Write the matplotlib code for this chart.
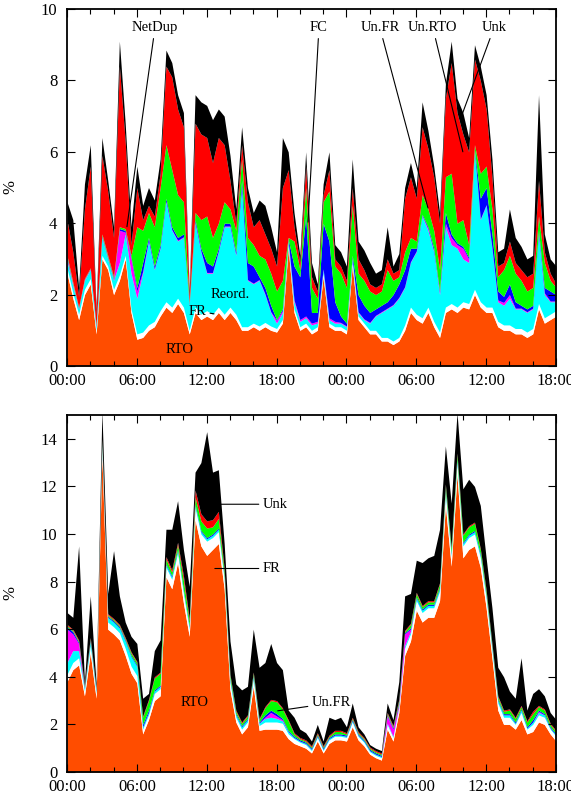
import numpy as np
import matplotlib
matplotlib.use("Agg")
import matplotlib.pyplot as plt
from matplotlib.ticker import MultipleLocator

# sample times in hours since 00:00 of day one (every 30 min, 42 h)
hours = np.arange(0, 42.5, 0.5)
xlabels = ['00:00', '06:00', '12:00', '18:00', '00:00', '06:00', '12:00', '18:00']

# ---- top panel: upper edge of each stacked class (%, cumulative) ----
top_rto = [2.6, 1.9, 1.3, 2.0, 2.3, 0.9, 3.0, 2.7, 2.0, 2.4,
           3.0, 1.5, 0.75, 0.8, 1.0, 1.1, 1.4, 1.65, 1.5, 1.75,
           1.5, 0.9, 1.5, 1.3, 1.4, 1.3, 1.5, 1.3, 1.5, 1.3,
           1.0, 1.0, 1.1, 1.0, 1.1, 1.0, 0.95, 1.2, 3.3, 1.5,
           1.0, 1.1, 0.9, 1.0, 2.5, 1.1, 1.0, 1.0, 0.9, 2.8,
           1.3, 1.1, 0.9, 0.9, 0.7, 0.7, 0.6, 0.7, 1.0, 1.5,
           1.3, 1.2, 1.5, 1.1, 0.8, 1.5, 1.6, 1.5, 1.65, 1.6,
           2.0, 1.65, 1.5, 1.5, 1.1, 1.0, 1.0, 0.9, 0.9, 0.8,
           0.9, 1.6, 1.2, 1.3, 1.4]
top_fr = [2.75, 2.05, 1.45, 2.15, 2.45, 1.0, 3.1, 2.8, 2.15, 2.55,
          3.1, 1.6, 0.9, 0.95, 1.15, 1.25, 1.55, 1.8, 1.65, 1.9,
          1.65, 1.0, 1.65, 1.45, 1.55, 1.45, 1.65, 1.45, 1.65, 1.45,
          1.1, 1.1, 1.2, 1.12, 1.22, 1.12, 1.05, 1.3, 3.4, 1.6,
          1.1, 1.2, 1.0, 1.1, 2.6, 1.2, 1.1, 1.1, 1.0, 2.9,
          1.4, 1.2, 1.0, 1.0, 0.8, 0.8, 0.7, 0.8, 1.15, 1.65,
          1.45, 1.35, 1.65, 1.25, 0.95, 1.65, 1.75, 1.65, 1.8, 1.75,
          2.15, 1.8, 1.65, 1.65, 1.25, 1.15, 1.15, 1.05, 1.05, 0.95,
          1.05, 1.75, 1.35, 1.45, 1.55]
top_reord = [2.95, 2.25, 1.6, 2.4, 2.7, 1.1, 3.6, 3.0, 2.4, 2.9,
             3.7, 2.6, 1.9, 2.6, 3.5, 2.7, 3.3, 4.6, 3.8, 3.5,
             3.6, 1.7, 4.0, 3.2, 2.6, 2.6, 3.2, 3.9, 3.9, 3.1,
             5.0, 2.4, 2.3, 2.4, 2.0, 1.5, 1.2, 1.5, 3.5, 1.8,
             1.25, 1.35, 1.15, 1.2, 2.7, 1.3, 1.2, 1.2, 1.1, 3.0,
             1.5, 1.3, 1.2, 1.4, 1.5, 1.6, 1.7, 1.9, 2.2, 2.9,
             3.2, 4.2, 3.8, 3.2, 2.0, 3.9, 3.4, 3.3, 3.0, 2.9,
             6.0, 4.1, 4.5, 3.3, 1.8, 1.7, 1.9, 1.6, 1.6, 1.5,
             1.6, 3.7, 2.0, 1.8, 1.8]
top_netdup = [3.0, 2.3, 1.62, 2.42, 2.72, 1.12, 3.62, 3.02, 2.42, 3.8,
              3.75, 3.0, 2.1, 2.65, 3.52, 2.72, 3.32, 4.62, 3.82, 3.52,
              3.62, 1.72, 4.02, 3.22, 2.62, 2.62, 3.22, 3.92, 3.92, 3.12,
              5.02, 2.42, 2.32, 2.42, 2.02, 1.52, 1.28, 1.55, 3.52, 1.85,
              1.3, 1.4, 1.2, 1.25, 2.72, 1.35, 1.25, 1.22, 1.12, 3.02,
              1.52, 1.32, 1.22, 1.42, 1.52, 1.62, 1.72, 1.92, 2.22, 2.92,
              3.22, 4.22, 3.85, 3.22, 2.05, 4.0, 3.6, 3.4, 3.3, 3.0,
              6.02, 4.12, 4.52, 3.32, 1.85, 1.78, 2.0, 1.62, 1.62, 1.52,
              1.62, 3.72, 2.05, 1.82, 1.82]
top_fc = [3.05, 2.3, 1.63, 2.43, 2.73, 1.13, 3.65, 3.05, 2.45, 3.85,
          3.8, 3.05, 2.2, 2.9, 3.6, 2.8, 3.4, 4.7, 3.9, 3.6,
          3.7, 1.75, 4.1, 3.3, 2.9, 2.8, 3.3, 4.0, 4.0, 3.2,
          5.2, 2.9, 2.8, 2.5, 2.2, 1.7, 1.3, 1.6, 3.55, 2.8,
          2.5, 4.2, 1.5, 1.5, 4.0, 3.5, 1.8, 1.4, 1.2, 3.1,
          2.0, 1.7, 1.5, 1.6, 1.7, 1.8, 2.0, 2.3, 2.7, 3.3,
          3.3, 4.25, 3.9, 3.3, 2.1, 4.3, 3.7, 3.45, 3.35, 3.05,
          6.05, 4.7, 5.0, 3.7, 2.1, 1.95, 2.3, 1.8, 1.7, 1.6,
          1.7, 3.8, 2.2, 2.1, 2.0]
top_unfr = [3.1, 2.35, 1.65, 2.45, 2.75, 1.15, 3.7, 3.1, 2.5, 3.9,
            3.85, 3.1, 3.9, 3.8, 4.3, 3.9, 5.0, 6.2, 5.5, 4.8,
            4.6, 1.8, 4.3, 4.1, 4.2, 3.6, 4.0, 4.6, 4.4, 3.8,
            5.8, 3.6, 3.4, 3.1, 3.0, 2.6, 2.1, 2.4, 3.6, 3.5,
            2.7, 5.0, 2.2, 1.9, 4.6, 4.9, 2.8, 2.6, 2.2, 4.5,
            2.6, 2.4, 2.1, 2.0, 2.1, 2.7, 2.4, 2.5, 3.2, 3.6,
            3.5, 4.8, 4.4, 3.8, 2.7, 5.3, 5.4, 4.0, 4.1, 3.4,
            6.2, 5.4, 5.6, 4.4, 2.5, 2.7, 3.1, 2.6, 2.4, 2.1,
            2.2, 4.2, 2.9, 2.4, 2.2]
top_unrto = [4.1, 3.2, 1.95, 4.4, 5.6, 1.45, 5.9, 4.9, 3.6, 8.4,
             6.3, 3.4, 5.0, 4.1, 4.5, 4.2, 5.4, 8.4, 8.1, 7.2,
             6.7, 1.95, 6.8, 6.5, 6.4, 5.7, 6.4, 6.2, 5.2, 4.0,
             6.2, 4.6, 3.9, 4.1, 3.7, 3.3, 2.8, 5.0, 5.5, 3.9,
             2.9, 5.6, 2.5, 2.1, 4.8, 5.5, 3.0, 2.8, 2.4, 5.0,
             3.0, 2.7, 2.3, 2.2, 2.3, 3.0, 2.6, 2.7, 4.7, 5.3,
             4.7, 6.7, 6.1, 5.3, 4.0, 7.5, 8.5, 7.1, 6.5, 6.0,
             8.6, 8.0, 7.2, 5.3, 2.8, 2.9, 3.5, 2.9, 2.7, 2.5,
             2.6, 5.2, 3.2, 2.6, 2.3]
top_unk = [4.6, 4.1, 2.2, 5.1, 6.2, 1.6, 6.4, 5.2, 3.9, 9.1,
           6.8, 3.9, 5.6, 4.5, 5.0, 4.65, 5.8, 8.85, 8.5, 7.6,
           7.1, 2.1, 7.6, 7.4, 7.3, 6.9, 7.2, 7.0, 5.9, 4.4,
           6.7, 5.0, 4.3, 4.65, 4.5, 3.9, 3.2, 6.4, 6.0, 4.3,
           3.1, 6.0, 2.9, 2.3, 5.1, 6.0, 3.4, 3.2, 2.8, 5.8,
           3.5, 3.25, 2.9, 2.6, 2.7, 3.9, 2.8, 3.15, 5.0, 5.7,
           5.0, 7.4, 6.6, 5.6, 4.3, 7.9, 9.1, 7.5, 7.1, 6.4,
           9.0, 8.4, 7.6, 5.8, 3.2, 3.3, 4.4, 3.6, 3.35, 3.0,
           3.1, 7.6, 3.7, 3.0, 2.8]

# ---- bottom panel: RTO and total, thin classes as thickness ----
bot_rto = [3.8, 4.3, 4.5, 3.2, 5.0, 3.1, 13.3, 6.0, 5.8, 5.55,
           4.9, 4.15, 3.75, 1.6, 2.2, 3.0, 3.2, 8.2, 7.7, 8.8,
           7.1, 5.7, 10.6, 9.5, 9.1, 9.35, 9.6, 7.7, 3.45, 2.1,
           1.6, 1.9, 3.6, 1.75, 1.8, 1.8, 1.8, 1.75, 1.4, 1.2,
           1.1, 1.0, 0.8, 1.3, 0.8, 1.2, 1.35, 1.35, 1.3, 1.9,
           1.35, 1.1, 0.75, 0.6, 0.5, 1.8, 1.3, 2.5, 4.9, 5.5,
           6.8, 6.3, 6.5, 6.5, 7.2, 11.2, 8.65, 12.5, 9.0, 9.35,
           9.5, 8.6, 6.9, 4.8, 2.6, 2.0, 2.0, 1.8, 2.2, 1.6,
           1.7, 2.1, 2.0, 1.6, 1.3]
bot_fr = [0.3, 0.3, 0.3, 0.2, 0.3, 0.2, 0.4, 0.3, 0.3, 0.3,
          0.3, 0.3, 0.3, 0.2, 0.2, 0.3, 0.3, 0.4, 0.4, 0.4,
          0.4, 0.3, 0.5, 0.5, 0.6, 0.5, 0.5, 0.4, 0.3, 0.2,
          0.2, 0.2, 0.3, 0.2, 0.3, 0.3, 0.3, 0.3, 0.2, 0.2,
          0.15, 0.15, 0.1, 0.15, 0.1, 0.15, 0.15, 0.15, 0.15, 0.2,
          0.15, 0.15, 0.1, 0.1, 0.1, 0.2, 0.15, 0.2, 0.3, 0.3,
          0.4, 0.4, 0.4, 0.4, 0.4, 0.5, 0.4, 0.5, 0.5, 0.5,
          0.5, 0.4, 0.4, 0.3, 0.3, 0.3, 0.3, 0.2, 0.3, 0.2,
          0.3, 0.3, 0.3, 0.2, 0.2]
bot_reord = [0.5, 0.5, 0.3, 0.1, 0.2, 0.1, 0.1, 0.2, 0.2, 0.2,
             0.3, 0.4, 0.4, 0.1, 0.1, 0.1, 0.1, 0.1, 0.1, 0.1,
             0.1, 0.1, 0.1, 0.1, 0.1, 0.1, 0.1, 0.1, 0.1, 0.1,
             0.1, 0.1, 0.1, 0.1, 0.15, 0.2, 0.15, 0.1, 0.1, 0.05,
             0.05, 0.05, 0.05, 0.05, 0.05, 0.05, 0.05, 0.05, 0.05, 0.05,
             0.05, 0.05, 0.05, 0.05, 0.05, 0.05, 0.05, 0.05, 0.1, 0.1,
             0.1, 0.1, 0.1, 0.1, 0.1, 0.1, 0.1, 0.1, 0.1, 0.1,
             0.1, 0.1, 0.1, 0.1, 0.1, 0.1, 0.1, 0.05, 0.1, 0.05,
             0.1, 0.1, 0.1, 0.05, 0.05]
bot_netdup = [1.4, 0.7, 0.3, 0, 0, 0, 0, 0, 0, 0,
              0, 0, 0, 0, 0, 0, 0, 0, 0, 0,
              0, 0, 0, 0, 0, 0, 0, 0, 0, 0,
              0, 0, 0, 0, 0.05, 0.2, 0.1, 0.05, 0, 0,
              0, 0, 0, 0, 0, 0, 0, 0, 0, 0,
              0, 0, 0, 0, 0, 0.3, 0.3, 0.1, 0.5, 0.1,
              0, 0, 0, 0, 0, 0, 0, 0, 0, 0,
              0, 0, 0, 0, 0, 0, 0, 0, 0, 0,
              0, 0.05, 0, 0, 0]
bot_fc = [0.1, 0.1, 0.05, 0.05, 0.05, 0.05, 0.05, 0.05, 0.05, 0.05,
          0.05, 0.05, 0.05, 0.1, 0.1, 0.05, 0.05, 0.05, 0.05, 0.05,
          0.05, 0.05, 0.05, 0.05, 0.05, 0.05, 0.05, 0.05, 0.05, 0.05,
          0.05, 0.05, 0.05, 0.05, 0.1, 0.1, 0.1, 0.05, 0.05, 0.05,
          0.05, 0.05, 0.05, 0.05, 0.05, 0.05, 0.05, 0.05, 0.05, 0.05,
          0.05, 0.05, 0.05, 0.05, 0.05, 0.05, 0.05, 0.05, 0.05, 0.05,
          0.05, 0.05, 0.05, 0.05, 0.05, 0.05, 0.05, 0.05, 0.05, 0.05,
          0.05, 0.05, 0.05, 0.05, 0.05, 0.05, 0.05, 0.05, 0.05, 0.05,
          0.1, 0.05, 0.05, 0.05, 0.05]
bot_unfr = [0.05, 0.05, 0.05, 0.05, 0.05, 0.05, 0.1, 0.05, 0.05, 0.05,
            0.05, 0.1, 0.1, 0.3, 0.4, 0.5, 0.5, 0.2, 0.15, 0.2,
            0.4, 0.2, 0.3, 0.4, 0.4, 0.3, 0.4, 0.2, 0.15, 0.1,
            0.1, 0.1, 0.1, 0.1, 0.3, 0.4, 0.5, 0.4, 0.4, 0.1,
            0.05, 0.05, 0.05, 0.05, 0.05, 0.05, 0.1, 0.1, 0.05, 0.05,
            0.05, 0.05, 0.05, 0.05, 0.05, 0.05, 0.05, 0.1, 0.05, 0.15,
            0.15, 0.1, 0.1, 0.1, 0.15, 0.2, 0.2, 0.2, 0.3, 0.3,
            0.3, 0.2, 0.15, 0.1, 0.1, 0.1, 0.15, 0.15, 0.1, 0.2,
            0.25, 0.15, 0.15, 0.1, 0.1]
bot_unrto = [0.05, 0.05, 0.05, 0.05, 0.05, 0.05, 0.05, 0.05, 0.05, 0.05,
             0.05, 0.05, 0.05, 0.05, 0.05, 0.05, 0.05, 0.1, 0.1, 0.1,
             0.2, 0.1, 0.3, 0.3, 0.3, 0.3, 0.3, 0.1, 0.05, 0.05,
             0.05, 0.05, 0.05, 0.05, 0.05, 0.05, 0.05, 0.05, 0.05, 0.05,
             0.05, 0.05, 0.05, 0.05, 0.05, 0.05, 0.05, 0.05, 0.05, 0.05,
             0.05, 0.05, 0.05, 0.05, 0.05, 0.05, 0.05, 0.05, 0.05, 0.05,
             0.05, 0.05, 0.05, 0.05, 0.05, 0.05, 0.05, 0.05, 0.05, 0.05,
             0.05, 0.05, 0.05, 0.05, 0.05, 0.05, 0.05, 0.05, 0.05, 0.05,
             0.1, 0.05, 0.05, 0.05, 0.05]
bot_total = [6.7, 6.5, 9.5, 3.8, 7.4, 3.7, 15.2, 7.5, 9.3, 7.4,
             6.3, 5.7, 5.4, 3.1, 3.3, 5.1, 5.55, 10.2, 10.2, 11.4,
             9.35, 7.8, 12.6, 13.0, 14.3, 12.6, 12.7, 9.6, 5.5, 3.7,
             3.45, 3.6, 6.0, 4.4, 4.6, 5.4, 4.6, 4.3, 2.6, 2.3,
             1.8, 1.65, 1.3, 2.0, 1.3, 2.3, 2.2, 2.3, 1.9, 2.9,
             1.9, 1.6, 1.15, 1.0, 0.9, 2.9, 2.2, 3.8, 7.4, 7.5,
             8.9, 8.8, 9.0, 9.1, 10.2, 13.7, 11.3, 15.1, 11.9, 12.3,
             12.0, 11.2, 9.0, 6.9, 4.4, 4.0, 3.4, 3.1, 4.8, 2.6,
             3.3, 3.5, 3.2, 2.5, 2.2]

colors = ['#ff4d00', 'white', 'cyan', 'magenta', 'blue', '#00ff00', 'red', 'black']
serif = 'Liberation Serif'

fig = plt.figure(figsize=(5.71, 7.97), dpi=100)
ax1 = fig.add_axes([0.1173, 0.5408, 0.8564, 0.4479])
ax2 = fig.add_axes([0.1173, 0.0314, 0.8564, 0.4479])

# top panel
edges = [top_rto, top_fr, top_reord, top_netdup, top_fc, top_unfr, top_unrto, top_unk]
lower = np.zeros(len(hours))
for edge, c in zip(edges, colors):
    edge = np.array(edge)
    ax1.fill_between(hours, lower, edge, color=c, lw=0)
    lower = edge

# bottom panel
layers = [bot_rto, bot_fr, bot_reord, bot_netdup, bot_fc, bot_unfr, bot_unrto]
lower = np.zeros(len(hours))
for vals, c in zip(layers, colors[:-1]):
    upper = lower + np.array(vals)
    ax2.fill_between(hours, lower, upper, color=c, lw=0)
    lower = upper
ax2.fill_between(hours, lower, bot_total, color='black', lw=0)

for ax, ymax in [(ax1, 10), (ax2, 15)]:
    ax.set_xlim(0, 42)
    ax.set_ylim(0, ymax)
    ax.set_xticks(np.arange(0, 43, 6))
    ax.set_xticklabels(xlabels)
    ax.xaxis.set_minor_locator(MultipleLocator(2))
    ax.set_yticks(np.arange(0, ymax + 0.1, 2))
    ax.tick_params(which='both', direction='in', top=True, right=True, width=0.8)
    ax.tick_params(which='major', length=6, labelsize=12)
    ax.tick_params(axis='x', which='major', pad=5)
    ax.tick_params(axis='y', which='major', pad=7)
    ax.tick_params(which='minor', length=3.5)
    for lab in ax.get_xticklabels() + ax.get_yticklabels():
        lab.set_family(serif)
    for s in ax.spines.values():
        s.set_linewidth(1.3)
    ax.set_ylabel('%', family=serif, fontsize=12)
    ax.yaxis.set_label_coords(-0.1, 0.5)

arrow = dict(arrowstyle='-', lw=0.8, color='black', shrinkA=1, shrinkB=0)
fs = 10.5

# top panel labels
ax1.annotate('NetDup', xy=(5.15, 3.9), xytext=(7.56, 9.47), ha='center', va='center',
             family=serif, fontsize=fs, arrowprops=arrow)
ax1.annotate('FC', xy=(20.7, 4.03), xytext=(21.64, 9.47), ha='center', va='center',
             family=serif, fontsize=fs, arrowprops=arrow)
ax1.annotate('Un.FR', xy=(31.0, 4.43), xytext=(26.88, 9.47), ha='center', va='center',
             family=serif, fontsize=fs, arrowprops=arrow)
ax1.annotate('Un.RTO', xy=(34.0, 6.0), xytext=(31.43, 9.47), ha='center', va='center',
             family=serif, fontsize=fs, arrowprops=arrow)
ax1.annotate('Unk', xy=(34.0, 7.1), xytext=(36.67, 9.47), ha='center', va='center',
             family=serif, fontsize=fs, arrowprops=arrow)
ax1.text(14.0, 1.99, 'Reord.', ha='center', va='center', family=serif, fontsize=fs)
ax1.annotate('FR', xy=(12.63, 1.46), xytext=(11.17, 1.54), ha='center', va='center',
             family=serif, fontsize=fs, arrowprops=arrow)
ax1.text(9.7, 0.45, 'RTO', ha='center', va='center', family=serif, fontsize=fs)

# bottom panel labels
ax2.annotate('Unk', xy=(13.14, 11.25), xytext=(16.83, 11.25), ha='left', va='center',
             family=serif, fontsize=fs, arrowprops=arrow)
ax2.annotate('FR', xy=(12.7, 8.55), xytext=(16.83, 8.55), ha='left', va='center',
             family=serif, fontsize=fs, arrowprops=arrow)
ax2.annotate('Un.FR', xy=(18.1, 2.57), xytext=(21.04, 2.9), ha='left', va='center',
             family=serif, fontsize=fs, arrowprops=arrow)
ax2.text(11.0, 2.9, 'RTO', ha='center', va='center', family=serif, fontsize=fs)

fig.savefig('out.png', dpi=100)
